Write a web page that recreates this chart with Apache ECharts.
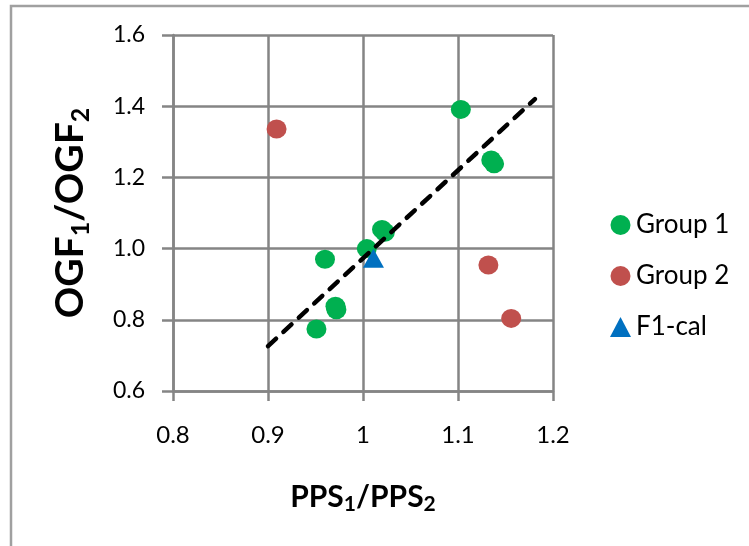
<!DOCTYPE html>
<html>
<head>
<meta charset="utf-8">
<script src="https://cdn.jsdelivr.net/npm/echarts@6/dist/echarts.min.js"></script>
<style>
  html, body { margin: 0; padding: 0; background: #ffffff; }
  #chart { width: 749px; height: 546px; }
</style>
</head>
<body>
<div id="chart"></div>
<script>
// Ratio data: PPS1/PPS2 (x) against OGF1/OGF2 (y)
const group1 = [
  [1.103, 1.391], [1.135, 1.249], [1.138, 1.238], [1.020, 1.054], [1.023, 1.046],
  [1.004, 1.000], [0.960, 0.970], [0.971, 0.838], [0.972, 0.828], [0.951, 0.774]
];
const group2 = [[0.909, 1.336], [1.132, 0.954], [1.156, 0.804]];
const f1cal = [[1.011, 0.973]];
// Fitted trend line end points
const trend = [[0.900, 0.726], [1.181, 1.420]];

const seriesNames = ['Group 1', 'Group 2', 'F1-cal'];
const xRange = { min: 0.8, max: 1.2, interval: 0.1 };
const yRange = { min: 0.6, max: 1.6, interval: 0.2 };

const FONT = 'Lato, "Liberation Sans", sans-serif';
const GRID_GREY = '#858585';

const chart = echarts.init(document.getElementById('chart'), null, { renderer: 'canvas' });

chart.setOption({
  backgroundColor: '#ffffff',
  animation: false,
  textStyle: { fontFamily: FONT, color: '#000000' },
  graphic: [{
    type: 'rect',
    silent: true,
    shape: { x: 11, y: 6, width: 780, height: 580 },
    style: { fill: 'none', stroke: '#a0a0a0', lineWidth: 2.5 }
  }],
  grid: { left: 173, top: 35, width: 380, height: 356 },
  legend: {
    orient: 'vertical',
    left: 605,
    top: 207,
    itemWidth: 21,
    itemHeight: 20,
    itemGap: 25,
    data: seriesNames,
    textStyle: { fontFamily: FONT, fontSize: 26, color: '#000000' }
  },
  xAxis: {
    type: 'value',
    min: xRange.min, max: xRange.max, interval: xRange.interval,
    name: '{m|PPS}{s|1}{m|/PPS}{s|2}',
    nameLocation: 'middle',
    nameGap: 88,
    nameTextStyle: {
      rich: {
        m: { fontFamily: FONT, fontSize: 30, fontWeight: 'bold', lineHeight: 36, color: '#000' },
        s: { fontFamily: FONT, fontSize: 21, fontWeight: 'bold', lineHeight: 21, verticalAlign: 'bottom', color: '#000' }
      }
    },
    axisLine: { show: true, onZero: false, lineStyle: { color: GRID_GREY, width: 2.5 } },
    axisTick: { show: true, inside: false, length: 10, lineStyle: { color: GRID_GREY, width: 2.5 } },
    axisLabel: { fontFamily: FONT, fontSize: 24, color: '#000', margin: 32 },
    splitLine: { show: true, lineStyle: { color: GRID_GREY, width: 2.5 } }
  },
  yAxis: {
    type: 'value',
    min: yRange.min, max: yRange.max, interval: yRange.interval,
    name: '{m|OGF}{s|1}{m|/OGF}{s|2}',
    nameLocation: 'middle',
    nameGap: 80,
    nameTextStyle: {
      rich: {
        m: { fontFamily: FONT, fontSize: 39, fontWeight: 'bold', lineHeight: 46, color: '#000' },
        s: { fontFamily: FONT, fontSize: 25, fontWeight: 'bold', lineHeight: 25, verticalAlign: 'bottom', color: '#000' }
      }
    },
    axisLine: { show: true, onZero: false, lineStyle: { color: GRID_GREY, width: 2.5 } },
    axisTick: { show: true, inside: false, length: 11, lineStyle: { color: GRID_GREY, width: 2.5 } },
    axisLabel: {
      fontFamily: FONT, fontSize: 23, color: '#000', margin: 28,
      formatter: v => v.toFixed(1)
    },
    splitLine: { show: true, lineStyle: { color: GRID_GREY, width: 2.5 } }
  },
  series: [
    {
      name: seriesNames[0], type: 'scatter', data: group1,
      symbol: 'circle', symbolSize: [20, 19],
      itemStyle: { color: '#00B050', opacity: 1 }
    },
    {
      name: seriesNames[1], type: 'scatter', data: group2,
      symbol: 'circle', symbolSize: [20, 19],
      itemStyle: { color: '#C0504D', opacity: 1 }
    },
    {
      name: 'trend', type: 'line', data: trend,
      symbol: 'none', silent: true,
      lineStyle: { color: '#000000', width: 4.5, type: [11, 10], cap: 'round' }
    },
    {
      name: seriesNames[2], type: 'scatter', data: f1cal,
      symbol: 'triangle', symbolSize: [21, 19],
      itemStyle: { color: '#0070C0', opacity: 1 }
    }
  ]
});
</script>
</body>
</html>
